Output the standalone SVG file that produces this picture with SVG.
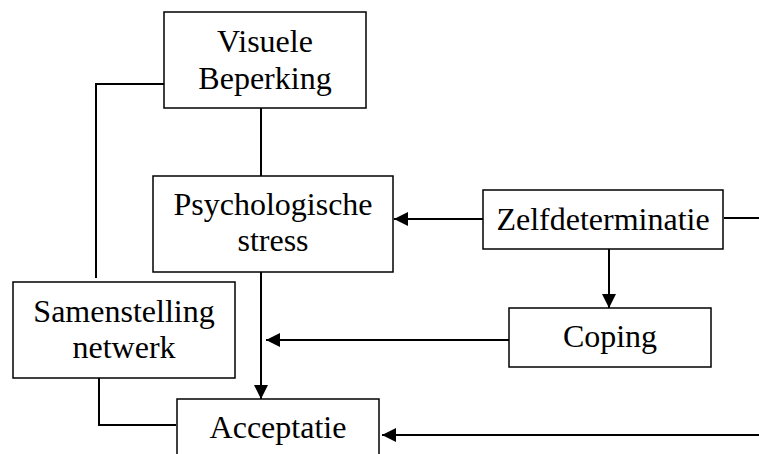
<svg xmlns="http://www.w3.org/2000/svg" width="759" height="454" viewBox="0 0 759 454">
<style>
.box{fill:#fff;stroke:#000;stroke-width:1.5}
.lbl{font-family:"Liberation Serif","Times New Roman",serif;font-size:32px;text-anchor:middle;fill:#000}
.ln{fill:none;stroke:#000;stroke-width:2}
</style>
<defs>
<marker id="arr" viewBox="0 0 14 14" refX="14" refY="7" markerWidth="14" markerHeight="14" markerUnits="userSpaceOnUse" orient="auto">
<path d="M0,0 L14,7 L0,14 Z" fill="#000"/>
</marker>
</defs>
<rect width="759" height="454" fill="#fff"/>
<g id="connectors">
<path class="ln" d="M164,84 H96 V278"/>
<path class="ln" d="M261,108 V176"/>
<path class="ln" d="M483,219 H394" marker-end="url(#arr)"/>
<path class="ln" d="M724,218 H759"/>
<path class="ln" d="M609,249 V308" marker-end="url(#arr)"/>
<path class="ln" d="M509,340 H266" marker-end="url(#arr)"/>
<path class="ln" d="M261,272 V399" marker-end="url(#arr)"/>
<path class="ln" d="M99,378 V425 H176"/>
<path class="ln" d="M759,435 H382" marker-end="url(#arr)"/>
</g>
<g id="visuele">
<rect class="box" x="164" y="12" width="202" height="96"/>
<text class="lbl" x="265" y="52">Visuele</text>
<text class="lbl" x="265" y="89">Beperking</text>
</g>
<g id="psych">
<rect class="box" x="153" y="176" width="240" height="96"/>
<text class="lbl" x="273" y="215">Psychologische</text>
<text class="lbl" x="273" y="251">stress</text>
</g>
<g id="zelf">
<rect class="box" x="483" y="190" width="240" height="59"/>
<text class="lbl" x="603" y="230">Zelfdeterminatie</text>
</g>
<g id="coping">
<rect class="box" x="509" y="308" width="202" height="59"/>
<text class="lbl" x="610" y="347">Coping</text>
</g>
<g id="samenstelling">
<rect class="box" x="13" y="282" width="222" height="96"/>
<text class="lbl" x="124" y="322">Samenstelling</text>
<text class="lbl" x="124" y="358">netwerk</text>
</g>
<g id="acceptatie">
<rect class="box" x="177" y="399" width="202" height="70"/>
<text class="lbl" x="278" y="438">Acceptatie</text>
</g>
</svg>
